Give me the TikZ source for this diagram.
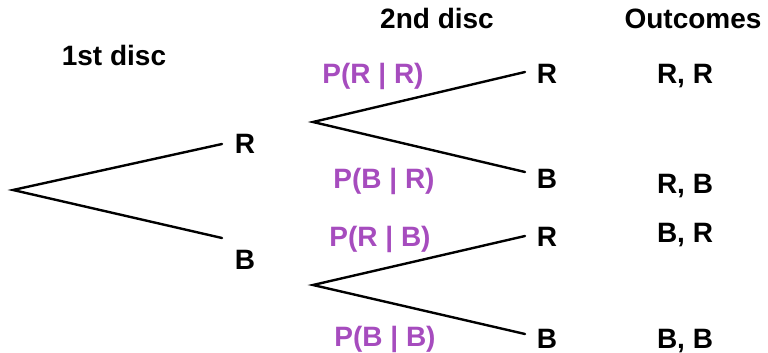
\documentclass[tikz,border=0pt]{standalone}
\usepackage{fontspec}
\setmainfont{Liberation Sans}
\definecolor{probpurple}{RGB}{166,76,190}
\begin{document}
\begin{tikzpicture}[x=1pt,y=-1pt,
  lbl/.style={font=\fontsize{28}{32}\selectfont\bfseries, inner sep=0pt, anchor=base},
  prob/.style={lbl, text=probpurple},
  branch/.style={line width=2.4pt, line cap=round}]
  \useasboundingbox (0,0) rectangle (768,353);

  % column headings
  \node[lbl] (h1) at (114,66) {1st disc};
  \node[lbl] (h2) at (437,29) {2nd disc};
  \node[lbl] (h3) at (693,29) {Outcomes};

  % branch points and branch ends
  \coordinate (root) at (13,190);
  \coordinate (e1R) at (222,144);
  \coordinate (e1B) at (222,238);
  \coordinate (vR) at (313,122);
  \coordinate (vB) at (313,285);
  \coordinate (eRR) at (525,72);
  \coordinate (eRB) at (525,172);
  \coordinate (eBR) at (525,236);
  \coordinate (eBB) at (525,334);

  % first disc
  \draw[branch] (e1R) -- (root) -- (e1B);
  \node[lbl] (r1) at (245,153) {R};
  \node[lbl] (b1) at (245,269) {B};

  % second disc
  \draw[branch] (eRR) -- (vR) -- (eRB);
  \draw[branch] (eBR) -- (vB) -- (eBB);
  \node[lbl] (rr) at (547,84) {R};
  \node[lbl] (rb) at (547,188) {B};
  \node[lbl] (br) at (547,246) {R};
  \node[lbl] (bb) at (547,348) {B};

  % conditional probabilities
  \node[prob] (pRR) at (373,84) {P(R | R)};
  \node[prob] (pBR) at (384,188) {P(B | R)};
  \node[prob] (pRB) at (380,246) {P(R | B)};
  \node[prob] (pBB) at (385,346) {P(B | B)};

  % outcomes
  \node[lbl] (oRR) at (685,84) {R, R};
  \node[lbl] (oRB) at (685,193) {R, B};
  \node[lbl] (oBR) at (685,242) {B, R};
  \node[lbl] (oBB) at (685,348) {B, B};
\end{tikzpicture}
\end{document}
